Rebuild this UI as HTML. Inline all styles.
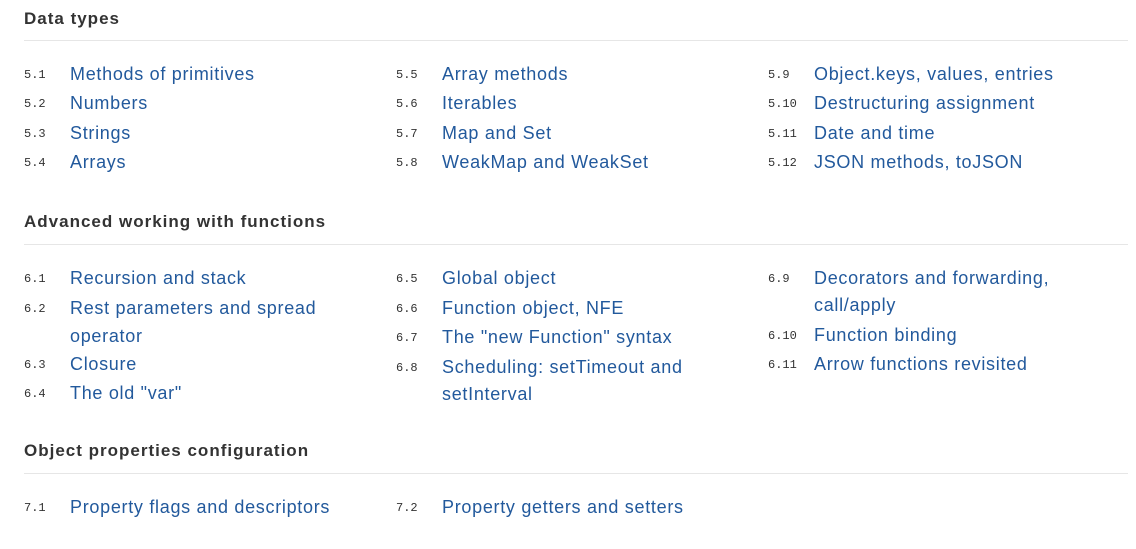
<!DOCTYPE html>
<html><head><style>
body{margin:0;width:1136px;height:549px;background:#fff;position:relative;overflow:hidden;font-family:"Liberation Sans",sans-serif}
.h{position:absolute;left:24px;font-weight:bold;font-size:17px;letter-spacing:1px;color:#333;line-height:20px}
.r{position:absolute;left:24px;width:1104px;height:1px;background:#e6e6e6}
.n{position:absolute;font-family:"Liberation Mono",monospace;font-size:12px;color:#333;line-height:14px}
.t{position:absolute;font-size:18px;letter-spacing:0.7px;color:#22599c;line-height:20px;white-space:nowrap}
</style></head><body>
<div class="h" style="top:9px">Data types</div><div class="r" style="top:40px"></div>
<div class="h" style="top:212px">Advanced working with functions</div><div class="r" style="top:244px"></div>
<div class="h" style="top:441px">Object properties configuration</div><div class="r" style="top:473px"></div>

<div class="n" style="left:24px;top:68px">5.1</div><div class="t" style="left:70px;top:64px">Methods of primitives</div>
<div class="n" style="left:24px;top:97px">5.2</div><div class="t" style="left:70px;top:93px">Numbers</div>
<div class="n" style="left:24px;top:127px">5.3</div><div class="t" style="left:70px;top:123px">Strings</div>
<div class="n" style="left:24px;top:156px">5.4</div><div class="t" style="left:70px;top:152px">Arrays</div>
<div class="n" style="left:396px;top:68px">5.5</div><div class="t" style="left:442px;top:64px">Array methods</div>
<div class="n" style="left:396px;top:97px">5.6</div><div class="t" style="left:442px;top:93px">Iterables</div>
<div class="n" style="left:396px;top:127px">5.7</div><div class="t" style="left:442px;top:123px">Map and Set</div>
<div class="n" style="left:396px;top:156px">5.8</div><div class="t" style="left:442px;top:152px">WeakMap and WeakSet</div>
<div class="n" style="left:768px;top:68px">5.9</div><div class="t" style="left:814px;top:64px">Object.keys, values, entries</div>
<div class="n" style="left:768px;top:97px">5.10</div><div class="t" style="left:814px;top:93px">Destructuring assignment</div>
<div class="n" style="left:768px;top:127px">5.11</div><div class="t" style="left:814px;top:123px">Date and time</div>
<div class="n" style="left:768px;top:156px">5.12</div><div class="t" style="left:814px;top:152px">JSON methods, toJSON</div>

<div class="n" style="left:24px;top:272px">6.1</div><div class="t" style="left:70px;top:268px">Recursion and stack</div>
<div class="n" style="left:24px;top:302px">6.2</div><div class="t" style="left:70px;top:298px">Rest parameters and spread</div><div class="t" style="left:70px;top:326px">operator</div>
<div class="n" style="left:24px;top:358px">6.3</div><div class="t" style="left:70px;top:354px">Closure</div>
<div class="n" style="left:24px;top:387px">6.4</div><div class="t" style="left:70px;top:383px">The old "var"</div>
<div class="n" style="left:396px;top:272px">6.5</div><div class="t" style="left:442px;top:268px">Global object</div>
<div class="n" style="left:396px;top:302px">6.6</div><div class="t" style="left:442px;top:298px">Function object, NFE</div>
<div class="n" style="left:396px;top:331px">6.7</div><div class="t" style="left:442px;top:327px">The "new Function" syntax</div>
<div class="n" style="left:396px;top:361px">6.8</div><div class="t" style="left:442px;top:357px">Scheduling: setTimeout and</div><div class="t" style="left:442px;top:384px">setInterval</div>
<div class="n" style="left:768px;top:272px">6.9</div><div class="t" style="left:814px;top:268px">Decorators and forwarding,</div><div class="t" style="left:814px;top:295px">call/apply</div>
<div class="n" style="left:768px;top:329px">6.10</div><div class="t" style="left:814px;top:325px">Function binding</div>
<div class="n" style="left:768px;top:358px">6.11</div><div class="t" style="left:814px;top:354px">Arrow functions revisited</div>

<div class="n" style="left:24px;top:501px">7.1</div><div class="t" style="left:70px;top:497px">Property flags and descriptors</div>
<div class="n" style="left:396px;top:501px">7.2</div><div class="t" style="left:442px;top:497px">Property getters and setters</div>
</body></html>
